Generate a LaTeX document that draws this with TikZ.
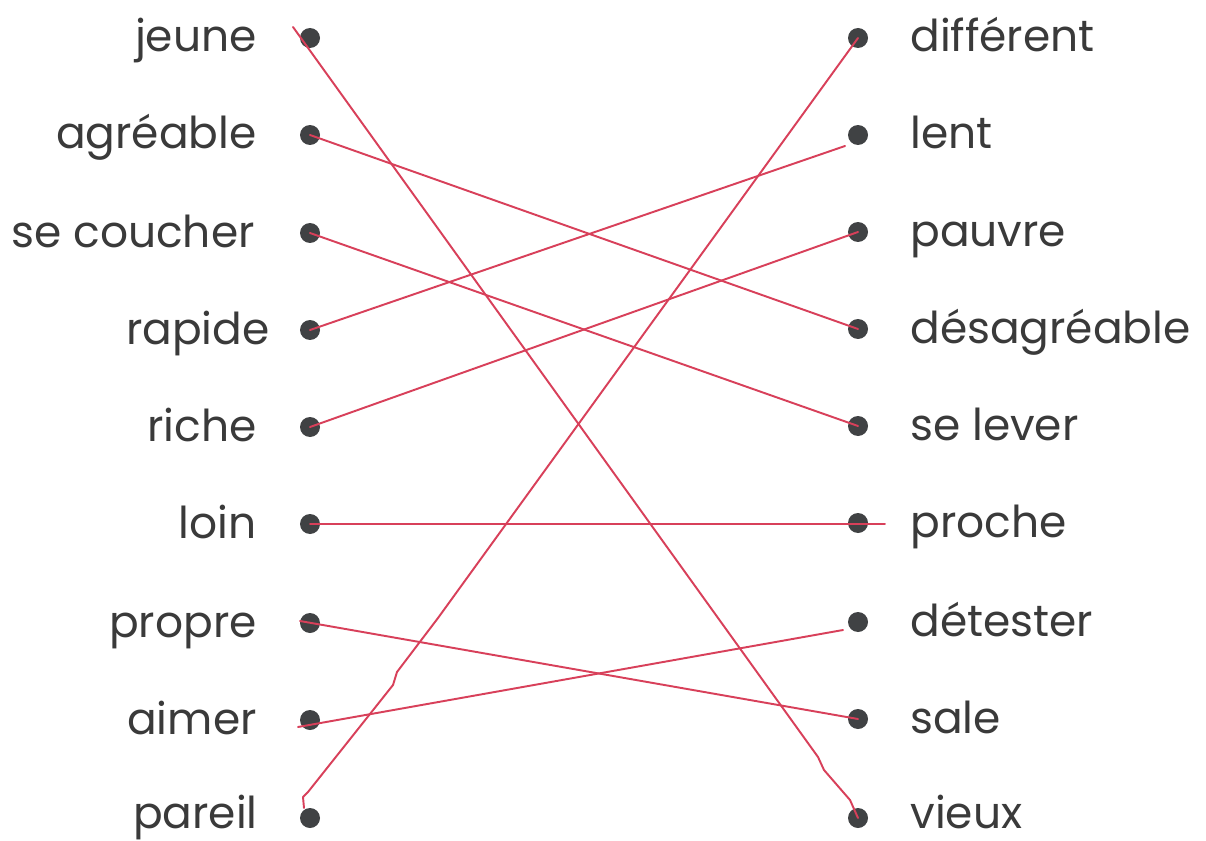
\documentclass[tikz,border=0pt]{standalone}
\usepackage{fontspec}
\setmainfont{Poppins}
\definecolor{ink}{HTML}{3A3A3A}
\definecolor{dotc}{HTML}{404244}
\definecolor{pen}{HTML}{D8405A}
\begin{document}
\begin{tikzpicture}[x=0.02cm,y=-0.02cm,
  dot/.style={circle,fill=dotc,inner sep=0pt,minimum size=0.4cm},
  lab/.style={text=ink,font=\fontsize{25}{30}\selectfont,inner sep=0pt,anchor=base east},
  rlab/.style={text=ink,font=\fontsize{25}{30}\selectfont,inner sep=0pt,anchor=base west},
  link/.style={draw=pen,line width=1.1pt,line cap=round,line join=round}]
\useasboundingbox[fill=white] (0,0) rectangle (1206,841);
% left dots
\foreach \n/\y in {1/38,2/135,3/233,4/330,5/427,6/524,7/623,8/720,9/818}
  \node[dot] (L\n) at (310,\y) {};
\foreach \n/\y in {1/38,2/135,3/232,4/329,5/426,6/523,7/622,8/719,9/818}
  \node[dot] (R\n) at (858,\y) {};
% left labels
\node[lab] (tl1) at (257,52) {jeune};
\node[lab] (tl2) at (257,149) {agréable};
\node[lab] (tl3) at (255,247) {se coucher};
\node[lab] (tl4) at (270,344) {rapide};
\node[lab] (tl5) at (257,441) {riche};
\node[lab] (tl6) at (257,538) {loin};
\node[lab] (tl7) at (257,637) {propre};
\node[lab] (tl8) at (257,734) {aimer};
\node[lab] (tl9) at (258,828) {pareil};
% right labels
\node[rlab] (tr1) at (910,52) {différent};
\node[rlab] (tr2) at (910,149) {lent};
\node[rlab] (tr3) at (910,246) {pauvre};
\node[rlab] (tr4) at (910,343) {désagréable};
\node[rlab] (tr5) at (910,440) {se lever};
\node[rlab] (tr6) at (910,537) {proche};
\node[rlab] (tr7) at (910,636) {détester};
\node[rlab] (tr8) at (910,733) {sale};
\node[rlab] (tr9) at (910,828) {vieux};
% free ends
\coordinate (a1) at (293,27);
\coordinate (b2) at (845,146);
\coordinate (b6) at (885,524);
\coordinate (a7) at (300,621);
\coordinate (a8) at (298,727);
\coordinate (b7) at (843,630);
\coordinate (a9) at (304,808);
% connectors
\draw[link] (a1) -- (818,757) -- (824,770) -- (850,800) -- (R9.center);
\draw[link] (L2.center) -- (R4.center);
\draw[link] (L3.center) -- (R5.center);
\draw[link] (L4.center) -- (b2);
\draw[link] (L5.center) -- (R3.center);
\draw[link] (L6.center) -- (b6);
\draw[link] (a7) -- (R8.center);
\draw[link] (a8) -- (b7);
\draw[link] (a9) -- (303,797) -- (308,792) -- (393,685) -- (397,672) -- (438,618) -- (R1.center);
\end{tikzpicture}
\end{document}
